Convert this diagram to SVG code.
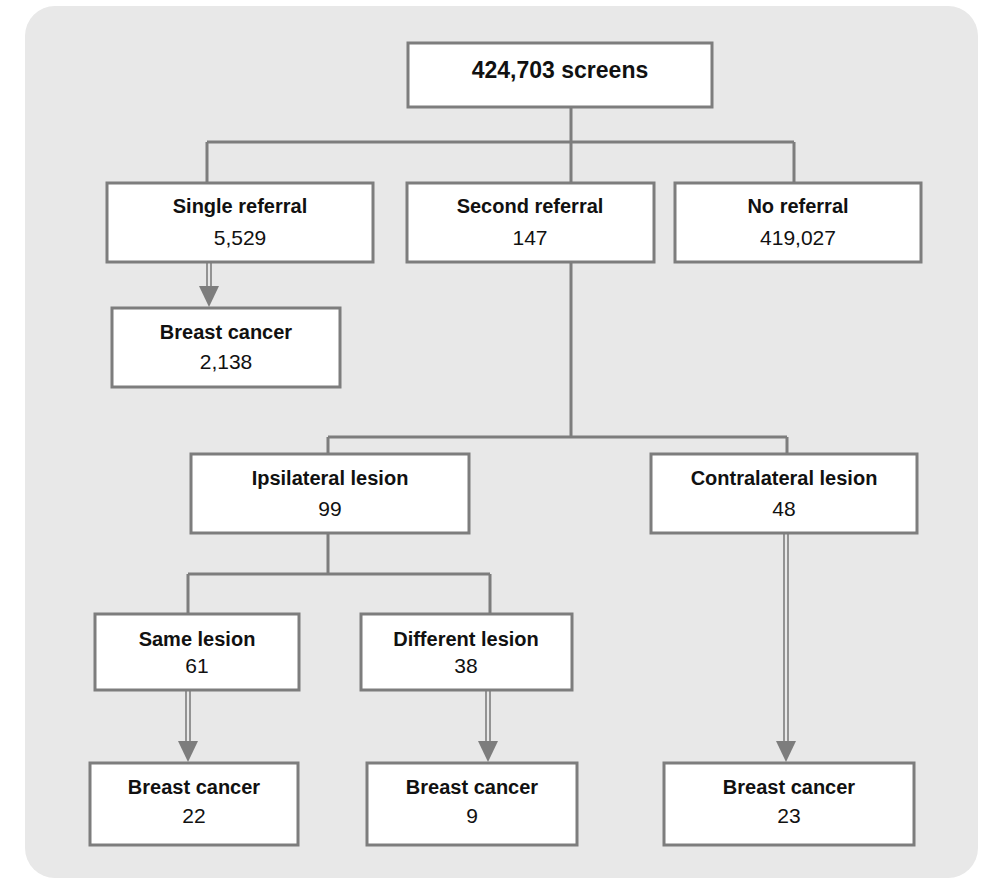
<svg xmlns="http://www.w3.org/2000/svg" width="983" height="881" viewBox="0 0 983 881">
<style>
.bg{fill:#e8e8e8}
.box{fill:#ffffff;stroke:#7d7d7d;stroke-width:3}
.con{fill:none;stroke:#7d7d7d;stroke-width:3}
.dbl{stroke:#7d7d7d;stroke-width:1.6}
.ah{fill:#7d7d7d}
.t{font-family:"Liberation Sans",Arial,sans-serif;font-size:20px;font-weight:bold;fill:#111;text-anchor:middle}
.n{font-family:"Liberation Sans",Arial,sans-serif;font-size:21px;fill:#111;text-anchor:middle}
.top{font-size:23px}
</style>
<defs>
<path id="ahd" d="M-10,-21 L10,-21 L0,0 Z"/>
</defs>
<rect x="0" y="0" width="983" height="881" fill="#ffffff"/>
<rect class="bg" x="25" y="6" width="953" height="872" rx="30" ry="30"/>

<g id="connectors">
<path class="con" d="M571,107 V142 M207,142 H794 M207,142 V183 M571,142 V183 M794,142 V183"/>
<path class="con" d="M571,262 V437 M328,437 H787 M328,437 V454 M787,437 V454"/>
<path class="con" d="M328,533 V574 M188,574 H490 M188,574 V614 M490,574 V614"/>
<g id="arrow-single">
<line class="dbl" x1="207" y1="263" x2="207" y2="290"/>
<line class="dbl" x1="211" y1="263" x2="211" y2="290"/>
<use href="#ahd" class="ah" transform="translate(209,307)"/>
</g>
<g id="arrow-same">
<line class="dbl" x1="186" y1="691" x2="186" y2="745"/>
<line class="dbl" x1="190" y1="691" x2="190" y2="745"/>
<use href="#ahd" class="ah" transform="translate(188,762)"/>
</g>
<g id="arrow-diff">
<line class="dbl" x1="486" y1="691" x2="486" y2="745"/>
<line class="dbl" x1="490" y1="691" x2="490" y2="745"/>
<use href="#ahd" class="ah" transform="translate(488,762)"/>
</g>
<g id="arrow-contra">
<line class="dbl" x1="784" y1="534" x2="784" y2="745"/>
<line class="dbl" x1="788" y1="534" x2="788" y2="745"/>
<use href="#ahd" class="ah" transform="translate(786,762)"/>
</g>
</g>

<g id="screens">
<rect class="box" x="408" y="43" width="304" height="64"/>
<text class="t top" x="560" y="78">424,703 screens</text>
</g>
<g id="single-referral">
<rect class="box" x="107" y="183" width="266" height="79"/>
<text class="t" x="240" y="213">Single referral</text>
<text class="n" x="240" y="245">5,529</text>
</g>
<g id="second-referral">
<rect class="box" x="407" y="183" width="247" height="79"/>
<text class="t" x="530" y="213">Second referral</text>
<text class="n" x="530" y="245">147</text>
</g>
<g id="no-referral">
<rect class="box" x="675" y="183" width="246" height="79"/>
<text class="t" x="798" y="213">No referral</text>
<text class="n" x="798" y="245">419,027</text>
</g>
<g id="bc-single">
<rect class="box" x="112" y="308" width="228" height="79"/>
<text class="t" x="226" y="339">Breast cancer</text>
<text class="n" x="226" y="369">2,138</text>
</g>
<g id="ipsilateral">
<rect class="box" x="191" y="454" width="278" height="79"/>
<text class="t" x="330" y="485">Ipsilateral lesion</text>
<text class="n" x="330" y="516">99</text>
</g>
<g id="contralateral">
<rect class="box" x="651" y="454" width="266" height="79"/>
<text class="t" x="784" y="485">Contralateral lesion</text>
<text class="n" x="784" y="516">48</text>
</g>
<g id="same-lesion">
<rect class="box" x="95" y="614" width="204" height="76"/>
<text class="t" x="197" y="646">Same lesion</text>
<text class="n" x="197" y="673">61</text>
</g>
<g id="different-lesion">
<rect class="box" x="361" y="614" width="211" height="76"/>
<text class="t" x="466" y="646">Different lesion</text>
<text class="n" x="466" y="673">38</text>
</g>
<g id="bc-same">
<rect class="box" x="90" y="763" width="208" height="82"/>
<text class="t" x="194" y="794">Breast cancer</text>
<text class="n" x="194" y="823">22</text>
</g>
<g id="bc-different">
<rect class="box" x="367" y="763" width="210" height="82"/>
<text class="t" x="472" y="794">Breast cancer</text>
<text class="n" x="472" y="823">9</text>
</g>
<g id="bc-contra">
<rect class="box" x="664" y="763" width="250" height="82"/>
<text class="t" x="789" y="794">Breast cancer</text>
<text class="n" x="789" y="823">23</text>
</g>
</svg>
